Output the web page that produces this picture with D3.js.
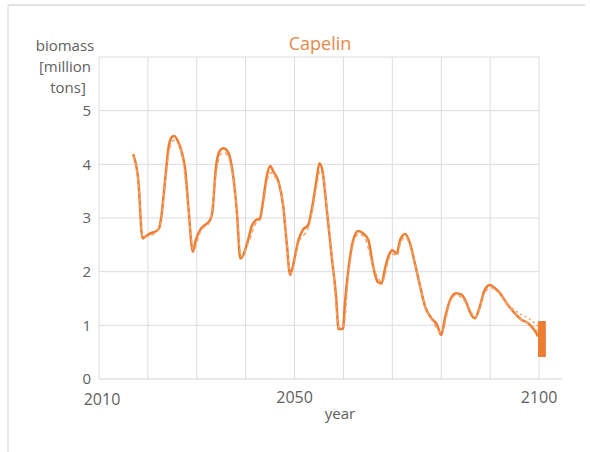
<!DOCTYPE html>
<html>
<head>
<meta charset="utf-8">
<script src="https://cdn.jsdelivr.net/npm/d3@7"></script>
<style>
  body { margin: 0; background: #fff; }
  text { font-family: "Open Sans", "Noto Sans", sans-serif; fill: #606060; }
</style>
</head>
<body>
<div id="chart"></div>
<script>
// chart data
var years = [2017.0, 2017.7, 2018.0, 2018.9, 2019.4, 2020.4, 2021.8, 2022.3, 2022.8, 2023.5,
  2024.2, 2024.9, 2025.4, 2026.2, 2027.0, 2027.6, 2028.3, 2029.2, 2029.8, 2030.7,
  2031.7, 2032.7, 2033.2, 2033.9, 2034.7, 2035.4, 2036.5, 2037.1, 2038.2, 2038.9,
  2039.5, 2040.5, 2041.2, 2042.1, 2042.9, 2043.6, 2044.3, 2045.0, 2045.7, 2046.7,
  2047.7, 2048.4, 2049.1, 2049.7, 2050.8, 2051.7, 2052.8, 2053.5, 2054.4, 2055.1,
  2055.8, 2056.6, 2057.6, 2058.5, 2059.0, 2059.9, 2060.3, 2061.0, 2062.0, 2063.0,
  2064.1, 2065.1, 2066.1, 2067.0, 2067.8, 2068.5, 2069.3, 2070.0, 2070.9, 2071.6,
  2072.6, 2073.6, 2074.6, 2075.7, 2076.7, 2078.0, 2079.1, 2080.0, 2080.8, 2081.8,
  2083.0, 2084.2, 2085.2, 2086.2, 2086.9, 2087.9, 2088.9, 2090.0, 2091.0, 2092.0,
  2093.4, 2095.1, 2096.5, 2097.8, 2098.8, 2099.5, 2099.8];
var biomass = [4.19, 3.93, 3.74, 2.62, 2.65, 2.71, 2.76, 2.81, 3.06, 3.68,
  4.30, 4.51, 4.53, 4.42, 4.20, 3.93, 3.18, 2.37, 2.59, 2.78,
  2.87, 2.96, 3.12, 3.93, 4.25, 4.30, 4.21, 3.99, 3.12, 2.25,
  2.31, 2.59, 2.84, 2.96, 2.99, 3.34, 3.77, 3.97, 3.86, 3.68,
  3.21, 2.53, 1.94, 2.12, 2.59, 2.78, 2.87, 3.15, 3.65, 4.02,
  3.83, 3.15, 2.28, 1.53, 0.93, 0.93, 1.41, 2.03, 2.59, 2.76,
  2.71, 2.59, 2.09, 1.81, 1.78, 2.06, 2.31, 2.40, 2.34, 2.59,
  2.70, 2.53, 2.16, 1.72, 1.35, 1.13, 1.02, 0.82, 1.15, 1.47,
  1.60, 1.57, 1.41, 1.19, 1.13, 1.35, 1.66, 1.75, 1.69, 1.60,
  1.41, 1.22, 1.10, 1.04, 0.94, 0.85, 0.79];

// second run (dashed, lighter)
var altYears = [2017.0, 2018.0, 2018.9, 2021.8, 2022.8, 2023.6, 2024.4, 2025.3, 2026.3, 2027.1,
  2028.3, 2029.3, 2030.8, 2032.7, 2034.0, 2034.8, 2035.6, 2036.6, 2037.3, 2038.3,
  2039.0, 2040.6, 2042.2, 2043.0, 2044.4, 2045.1, 2045.9, 2046.8, 2047.8, 2049.2,
  2050.9, 2052.9, 2054.5, 2055.2, 2055.9, 2056.7, 2057.7, 2059.1, 2060.0, 2061.1,
  2062.1, 2063.1, 2064.2, 2066.2, 2067.9, 2069.4, 2070.1, 2071.0, 2071.7, 2072.7,
  2074.7, 2076.8, 2078.1, 2080.0, 2081.9, 2083.1, 2085.3, 2087.0, 2089.0, 2090.1,
  2092.1, 2095.2, 2098.9, 2099.8];
var altBiomass = [4.15, 3.70, 2.64, 2.74, 3.02, 3.68, 4.28, 4.45, 4.36, 4.12,
  3.15, 2.40, 2.76, 2.93, 3.85, 4.18, 4.22, 4.10, 3.82, 3.05,
  2.28, 2.55, 2.92, 2.97, 3.70, 3.85, 3.78, 3.62, 3.16, 1.97,
  2.55, 2.84, 3.58, 3.88, 3.76, 3.10, 2.25, 0.96, 0.96, 2.00,
  2.55, 2.70, 2.66, 2.06, 1.80, 2.26, 2.33, 2.30, 2.54, 2.64,
  2.12, 1.32, 1.10, 0.86, 1.45, 1.57, 1.39, 1.15, 1.62, 1.70,
  1.58, 1.20, 0.97, 0.90];

// third run (dotted, only diverges at the end)
var dotYears = [2093.0, 2094.5, 2096.0, 2097.5, 2099.0, 2099.8];
var dotBiomass = [1.45, 1.32, 1.22, 1.15, 1.05, 0.98];

// spread of end values in 2100
var endYears = [2099.8, 2101.4];
var endRange = [0.41, 1.08];

var yTicks = [0, 1, 2, 3, 4, 5];
var xGrid = [2010, 2020, 2030, 2040, 2050, 2060, 2070, 2080, 2090, 2100];
var xLabels = [2010, 2050, 2100];
var yLabelLines = ["biomass", "[million", "tons]"];

var w = 590, h = 452;
var orange = "#ED7D31";

var svg = d3.select("#chart").append("svg")
  .attr("width", w).attr("height", h);

// outer frame (top and left edges only)
svg.append("line").attr("x1", 8).attr("x2", 585).attr("y1", 5).attr("y2", 5)
  .attr("stroke", "#d9d9d9").attr("stroke-width", 1.5);
svg.append("line").attr("x1", 8).attr("x2", 8).attr("y1", 5).attr("y2", h)
  .attr("stroke", "#e3e3e3").attr("stroke-width", 1.5);

var x = d3.scaleLinear().domain([2010, 2100]).range([99, 539]);
var y = d3.scaleLinear().domain([0, 6]).range([379, 57]);

// grid
var grid = svg.append("g");
grid.selectAll(".hg")
  .data(d3.range(1, 7))
  .enter().append("line")
  .attr("x1", x(2010)).attr("x2", x(2100))
  .attr("y1", function(d) { return y(d); })
  .attr("y2", function(d) { return y(d); })
  .attr("stroke", "#dadde2").attr("stroke-width", 1);
grid.selectAll(".vg")
  .data(xGrid)
  .enter().append("line")
  .attr("x1", function(d) { return x(d); })
  .attr("x2", function(d) { return x(d); })
  .attr("y1", y(0)).attr("y2", y(6))
  .attr("stroke", "#dadde2").attr("stroke-width", 1);

// x axis line runs a bit past the last gridline
svg.append("line")
  .attr("x1", x(2010)).attr("x2", x(2104.7))
  .attr("y1", y(0)).attr("y2", y(0))
  .attr("stroke", "#d0d3d8").attr("stroke-width", 1.2);

// tick labels
svg.selectAll(".ytick")
  .data(yTicks)
  .enter().append("text")
  .attr("x", 91)
  .attr("y", function(d) { return y(d); })
  .attr("dy", "0.35em")
  .attr("text-anchor", "end")
  .style("font-size", "15px")
  .text(function(d) { return d; });

svg.selectAll(".xtick")
  .data(xLabels)
  .enter().append("text")
  .attr("x", function(d) { return x(d) + (d == 2010 ? 3 : 0); })
  .attr("y", function(d) { return d == 2010 ? 405 : 403; })
  .attr("text-anchor", "middle")
  .style("font-size", "16px")
  .text(function(d) { return d; });

svg.append("text")
  .attr("x", 340).attr("y", 419)
  .attr("text-anchor", "middle")
  .style("font-size", "15px")
  .text("year");

// y axis title on three lines
svg.selectAll(".ylab")
  .data(yLabelLines)
  .enter().append("text")
  .attr("x", function(d, i) { return i == 2 ? 68 : 65; })
  .attr("y", function(d, i) { return 51 + i * 21; })
  .attr("text-anchor", "middle")
  .style("font-size", "15px")
  .text(function(d) { return d; });

// title
svg.append("text")
  .attr("x", 320).attr("y", 50)
  .attr("text-anchor", "middle")
  .style("font-size", "18px")
  .style("fill", "#E8894A")
  .text("Capelin");

// lines
var line = d3.line()
  .x(function(d) { return x(d[0]); })
  .y(function(d) { return y(d[1]); })
  .curve(d3.curveMonotoneX);

svg.append("path")
  .datum(d3.zip(years, biomass))
  .attr("d", line)
  .attr("fill", "none").attr("stroke", orange).attr("stroke-width", 2.5);

svg.append("path")
  .datum(d3.zip(altYears, altBiomass))
  .attr("d", line)
  .attr("fill", "none").attr("stroke", "#F4A46E").attr("stroke-width", 1.5)
  .attr("stroke-dasharray", "4,3");

svg.append("path")
  .datum(d3.zip(dotYears, dotBiomass))
  .attr("d", line)
  .attr("fill", "none").attr("stroke", "#F2A36A").attr("stroke-width", 1.6)
  .attr("stroke-dasharray", "2,3");

// end spread bar
svg.append("rect")
  .attr("x", x(endYears[0]))
  .attr("width", x(endYears[1]) - x(endYears[0]))
  .attr("y", y(endRange[1]))
  .attr("height", y(endRange[0]) - y(endRange[1]))
  .attr("fill", orange);
</script>
</body>
</html>
